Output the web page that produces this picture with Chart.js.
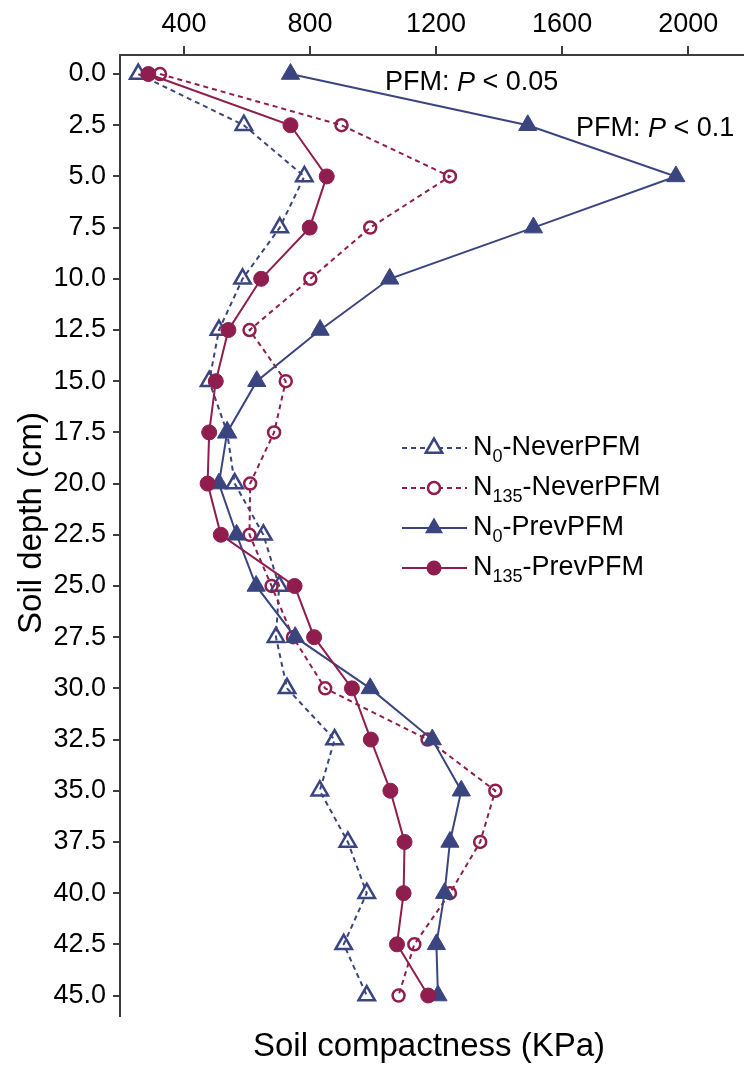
<!DOCTYPE html>
<html>
<head>
<meta charset="utf-8">
<script src="https://cdn.jsdelivr.net/npm/chart.js@4"></script>
<style>
  body { margin: 0; background: #fff; }
  canvas { display: block; }
</style>
</head>
<body>
<canvas id="chart" width="755" height="1068"></canvas>
<script>
// depth (cm) and soil compactness (KPa)
const depths = [0, 2.5, 5, 7.5, 10, 12.5, 15, 17.5, 20, 22.5, 25, 27.5, 30, 32.5, 35, 37.5, 40, 42.5, 45];
const n0Never   = [255, 590, 782, 704, 586, 511, 480, 537, 561, 652, 702, 692, 727, 878, 831, 920, 980, 907, 980];
const n135Never = [324, 900, 1244, 991, 801, 608, 723, 686, 610, 608, 678, 746, 848, 1173, 1388, 1340, 1244, 1131, 1081];
const n0Prev    = [738, 1491, 1961, 1509, 1053, 832, 631, 537, 511, 567, 629, 753, 991, 1188, 1280, 1244, 1227, 1201, 1206];
const n135Prev  = [287, 738, 853, 799, 645, 541, 501, 480, 475, 517, 751, 813, 933, 993, 1055, 1100, 1097, 1076, 1175];

const xTicks = [400, 800, 1200, 1600, 2000];
const yTicks = depths;

const BLUE = '#3a4580';
const RED = '#8f1d4d';
const FONT = '"Liberation Sans", Arial, sans-serif';

function pts(vals) {
    return depths.map((d, i) => ({ x: vals[i], y: d }));
}

const series = [
    { label: ['N', '0', '-NeverPFM'],   data: n0Never,   color: BLUE, dash: [5, 4], style: 'triangle', filled: false, r: 9.5, order: 4 },
    { label: ['N', '135', '-NeverPFM'], data: n135Never, color: RED,  dash: [5, 4], style: 'circle',   filled: false, r: 6, order: 3 },
    { label: ['N', '0', '-PrevPFM'],    data: n0Prev,    color: BLUE, dash: [],     style: 'triangle', filled: true,  r: 10.5, order: 2 },
    { label: ['N', '135', '-PrevPFM'],  data: n135Prev,  color: RED,  dash: [],     style: 'circle',   filled: true,  r: 7.5, order: 1 }
];

// legend with subscripts + annotations + axis titles
const extras = {
    id: 'extras',
    afterDraw(chart) {
        const ctx = chart.ctx;
        ctx.save();
        // legend
        series.forEach((s, i) => {
            const y = 448 + i * 40;
            ctx.strokeStyle = s.color;
            ctx.lineWidth = 2;
            ctx.setLineDash(s.dash);
            ctx.beginPath();
            ctx.moveTo(402, y);
            ctx.lineTo(467, y);
            ctx.stroke();
            ctx.setLineDash([]);
            ctx.beginPath();
            if (s.style === 'triangle') {
                const r = s.r;
                ctx.moveTo(434, y - r);
                ctx.lineTo(434 + r * 0.866, y + r * 0.5);
                ctx.lineTo(434 - r * 0.866, y + r * 0.5);
                ctx.closePath();
            } else {
                ctx.arc(434, y, s.r, 0, Math.PI * 2);
            }
            if (s.filled) {
                ctx.fillStyle = s.color;
                ctx.fill();
            } else {
                ctx.fillStyle = '#fff';
                ctx.fill();
                ctx.lineWidth = 2.5;
                ctx.stroke();
            }
            ctx.fillStyle = '#000';
            ctx.textBaseline = 'middle';
            ctx.textAlign = 'left';
            let x = 473;
            ctx.font = '27px ' + FONT;
            ctx.fillText(s.label[0], x, y);
            x += ctx.measureText(s.label[0]).width;
            ctx.font = '18px ' + FONT;
            ctx.fillText(s.label[1], x, y + 9);
            x += ctx.measureText(s.label[1]).width;
            ctx.font = '27px ' + FONT;
            ctx.fillText(s.label[2], x, y);
        });

        // significance notes
        function note(x, y, tail) {
            ctx.fillStyle = '#000';
            ctx.textBaseline = 'middle';
            ctx.textAlign = 'left';
            ctx.font = '27px ' + FONT;
            ctx.fillText('PFM: ', x, y);
            x += ctx.measureText('PFM: ').width;
            ctx.font = 'italic 27px ' + FONT;
            ctx.fillText('P', x, y);
            x += ctx.measureText('P').width;
            ctx.font = '27px ' + FONT;
            ctx.fillText(tail, x, y);
        }
        note(385, 83, ' < 0.05');
        note(576, 129, ' < 0.1');

        // axis titles
        ctx.fillStyle = '#000';
        ctx.font = '33px ' + FONT;
        ctx.textAlign = 'center';
        ctx.textBaseline = 'middle';
        ctx.fillText('Soil compactness (KPa)', 429, 1047);
        ctx.translate(32, 523);
        ctx.rotate(-Math.PI / 2);
        ctx.fillText('Soil depth (cm)', 0, 0);
        ctx.restore();
    }
};

new Chart(document.getElementById('chart'), {
    type: 'scatter',
    data: {
        datasets: series.map(s => ({
            data: pts(s.data),
            showLine: true,
            borderColor: s.color,
            borderWidth: 2,
            borderDash: s.dash,
            pointStyle: s.style,
            pointRadius: s.r,
            pointBorderWidth: s.filled ? 1 : 2.5,
            pointBorderColor: s.color,
            pointBackgroundColor: s.filled ? s.color : 'rgba(255,255,255,0)',
            order: s.order
        }))
    },
    options: {
        responsive: false,
        animation: false,
        devicePixelRatio: 1,
        layout: { padding: { left: 0, right: 0, top: 0, bottom: 52 } },
        plugins: { legend: { display: false }, tooltip: { enabled: false } },
        scales: {
            x: {
                type: 'linear',
                position: 'top',
                min: 197,
                max: 2174,
                afterBuildTicks: s => { s.ticks = xTicks.map(v => ({ value: v })); },
                afterFit: s => { s.height = 55; },
                grid: { display: true, drawOnChartArea: false, drawTicks: true, tickLength: 9, color: '#3c3c3c', lineWidth: 2 },
                border: { display: true, color: '#3c3c3c', width: 2 },
                ticks: { color: '#000', font: { family: FONT, size: 27 }, padding: 5, maxRotation: 0, callback: v => String(v) }
            },
            y: {
                type: 'linear',
                reverse: true,
                min: -0.93,
                max: 46,
                afterBuildTicks: s => { s.ticks = yTicks.map(v => ({ value: v })); },
                afterFit: s => { s.width = 120; },
                grid: { display: true, drawOnChartArea: false, drawTicks: true, tickLength: 7, color: '#3c3c3c', lineWidth: 2 },
                border: { display: true, color: '#3c3c3c', width: 2 },
                ticks: { color: '#000', font: { family: FONT, size: 27 }, padding: 7, autoSkip: false, callback: v => v.toFixed(1) }
            }
        }
    },
    plugins: [extras]
});
</script>
</body>
</html>
